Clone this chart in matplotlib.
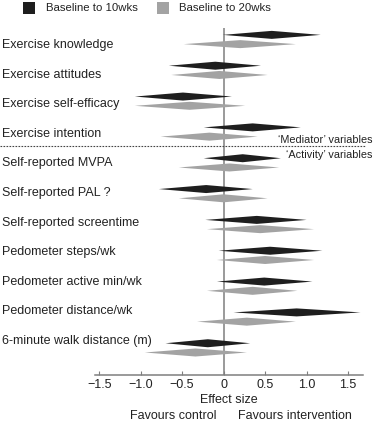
import numpy as np
import matplotlib
matplotlib.use("Agg")
import matplotlib.pyplot as plt
from matplotlib.transforms import blended_transform_factory
from matplotlib.patches import Rectangle

plt.rcParams['font.family'] = ['Liberation Sans', 'DejaVu Sans']

variables = ['Exercise knowledge', 'Exercise attitudes', 'Exercise self-efficacy',
             'Exercise intention', 'Self-reported MVPA', 'Self-reported PAL ?',
             'Self-reported screentime', 'Pedometer steps/wk', 'Pedometer active min/wk',
             'Pedometer distance/wk', '6-minute walk distance (m)']

# baseline to 10 weeks: effect size and CI
es10 = [0.58, -0.10, -0.49, 0.35, 0.23, -0.21, 0.40, 0.56, 0.49, 0.88, -0.19]
lo10 = [-0.01, -0.66, -1.07, -0.24, -0.24, -0.78, -0.22, -0.06, -0.08, 0.12, -0.70]
hi10 = [1.17, 0.45, 0.10, 0.93, 0.69, 0.35, 1.00, 1.19, 1.07, 1.65, 0.32]

# baseline to 20 weeks
es20 = [0.20, -0.05, -0.41, -0.17, 0.07, 0.00, 0.44, 0.50, 0.35, 0.28, -0.34]
lo20 = [-0.48, -0.63, -1.07, -0.76, -0.54, -0.54, -0.20, -0.08, -0.20, -0.32, -0.95]
hi20 = [0.87, 0.53, 0.26, 0.41, 0.67, 0.53, 1.09, 1.09, 0.89, 0.87, 0.28]

xticks = [-1.5, -1.0, -0.5, 0, 0.5, 1.0, 1.5]

W, H = 378, 423
fig = plt.figure(figsize=(W / 100, H / 100), dpi=100)
ax = fig.add_axes([95 / W, (H - 374.7) / H, (363 - 95) / W, (374.7 - 28) / H])

black = '#1e1e1e'
grey = '#a3a3a3'
h = 0.13
off = 0.15

def diamond(y, lo, est, hi, color):
    ax.fill([lo, est, hi, est], [y, y - h, y, y + h], color=color, lw=0)

for i in range(len(variables)):
    diamond(i - off, lo10[i], es10[i], hi10[i], black)
    diamond(i + off, lo20[i], es20[i], hi20[i], grey)

ax.set_xlim(-1.55, 1.68)
ax.set_ylim(10.87, -0.373)
ax.axvline(0, color='#7f7f7f', lw=1.1, zorder=0)

for s in ['top', 'right', 'left']:
    ax.spines[s].set_visible(False)
ax.spines['bottom'].set_color('#7f7f7f')
ax.spines['bottom'].set_linewidth(1.1)
ax.set_yticks([])
ax.set_xticks(xticks)
ax.set_xticklabels(['\u22121.5', '\u22121.0', '\u22120.5', '0', '0.5', '1.0', '1.5'])
ax.tick_params(axis='x', direction='in', length=3, color='#7f7f7f',
               labelsize=9, labelcolor='#222222', pad=3)

trans = blended_transform_factory(fig.transFigure, ax.transData)
for i, name in enumerate(variables):
    ax.text(2 / W, 0.18 + 0.96 * i, name, transform=trans, ha='left', va='center',
            fontsize=9, color='#222222', clip_on=False)

# separator between mediator and activity variables
ax.plot([0, 366 / W], [3.44, 3.44], transform=trans, color='#444444', lw=0.8,
        linestyle=(0, (1.5, 1.2)), clip_on=False)
ax.text(372 / W, 3.26, "\u2018Mediator\u2019 variables", transform=trans, ha='right',
        va='center', fontsize=7.8, color='#222222', clip_on=False)
ax.text(372 / W, 3.74, "\u2018Activity\u2019 variables", transform=trans, ha='right',
        va='center', fontsize=7.8, color='#222222', clip_on=False)

# legend
fig.patches.append(Rectangle((23 / W, (H - 14.5) / H), 12 / W, 12.5 / H,
                             transform=fig.transFigure, color=black, lw=0))
fig.text(46 / W, (H - 8) / H, 'Baseline to 10wks', ha='left', va='center',
         fontsize=8.2, color='#222222')
fig.patches.append(Rectangle((157 / W, (H - 14.5) / H), 12 / W, 12.5 / H,
                             transform=fig.transFigure, color=grey, lw=0))
fig.text(179 / W, (H - 8) / H, 'Baseline to 20wks', ha='left', va='center',
         fontsize=8.2, color='#222222')

fig.text(229 / W, (H - 400) / H, 'Effect size', ha='center', va='center',
         fontsize=9, color='#222222')
fig.text(173 / W, (H - 416) / H, 'Favours control', ha='center', va='center',
         fontsize=9, color='#222222')
fig.text(295 / W, (H - 416) / H, 'Favours intervention', ha='center', va='center',
         fontsize=9, color='#222222')

fig.savefig('out.png', dpi=100)
